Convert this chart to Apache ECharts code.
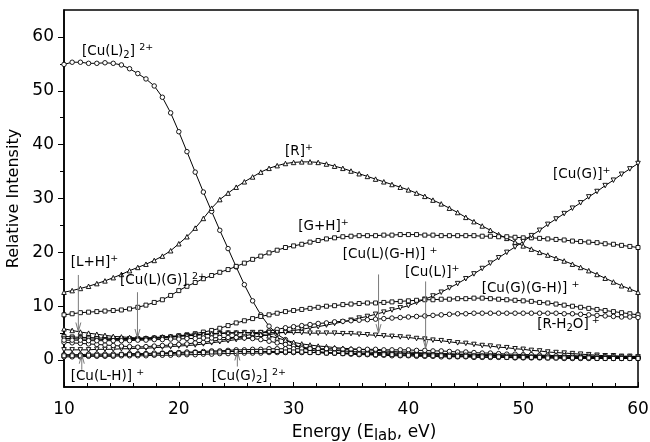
<!DOCTYPE html>
<html>
<head>
<meta charset="utf-8">
<script src="https://cdn.jsdelivr.net/npm/echarts@6/dist/echarts.min.js"></script>
<style>
  html, body { margin: 0; padding: 0; background: #fff; }
  #chart { width: 650px; height: 442px; }
</style>
</head>
<body>
<div id="chart"></div>
<script>
// Collision energy (lab frame, eV)
const energy = [
  10.00, 10.71, 11.43, 12.14, 12.86, 13.57, 14.29, 15.00, 15.71, 16.43,
  17.14, 17.86, 18.57, 19.29, 20.00, 20.71, 21.43, 22.14, 22.86, 23.57,
  24.29, 25.00, 25.71, 26.43, 27.14, 27.86, 28.57, 29.29, 30.00, 30.71,
  31.43, 32.14, 32.86, 33.57, 34.29, 35.00, 35.71, 36.43, 37.14, 37.86,
  38.57, 39.29, 40.00, 40.71, 41.43, 42.14, 42.86, 43.57, 44.29, 45.00,
  45.71, 46.43, 47.14, 47.86, 48.57, 49.29, 50.00, 50.71, 51.43, 52.14,
  52.86, 53.57, 54.29, 55.00, 55.71, 56.43, 57.14, 57.86, 58.57, 59.29, 60.00
];

// Relative intensities of each ion
const cuL2 = [
  54.9, 55.3, 55.3, 55.1, 55.1, 55.2, 55.1, 54.8, 54.1, 53.2,
  52.2, 50.9, 48.8, 45.9, 42.4, 38.7, 34.9, 31.2, 27.6, 24.1,
  20.7, 17.3, 14.0, 11.0, 8.4, 6.3, 4.8, 3.8, 2.9, 2.3,
  1.9, 1.6, 1.4, 1.3, 1.2, 1.1, 1.0, 1.0, 0.9, 0.9,
  0.8, 0.8, 0.8, 0.7, 0.7, 0.7, 0.6, 0.6, 0.6, 0.6,
  0.5, 0.5, 0.5, 0.5, 0.5, 0.4, 0.4, 0.4, 0.4, 0.4,
  0.4, 0.3, 0.3, 0.3, 0.3, 0.3, 0.3, 0.3, 0.3, 0.3, 0.3
];
const rIon = [
  12.6, 12.9, 13.3, 13.7, 14.2, 14.7, 15.3, 15.9, 16.6, 17.2,
  17.8, 18.5, 19.3, 20.3, 21.6, 22.9, 24.5, 26.3, 28.2, 29.8,
  31.0, 32.1, 33.1, 34.0, 34.9, 35.6, 36.1, 36.5, 36.7, 36.8,
  36.8, 36.7, 36.4, 36.0, 35.6, 35.1, 34.6, 34.1, 33.6, 33.1,
  32.6, 32.1, 31.6, 31.0, 30.4, 29.7, 29.0, 28.2, 27.4, 26.5,
  25.7, 24.9, 24.1, 23.3, 22.6, 21.9, 21.2, 20.6, 20.0, 19.5,
  18.9, 18.4, 17.8, 17.2, 16.6, 15.9, 15.2, 14.5, 13.8, 13.2, 12.6
];
const gH = [
  8.4, 8.6, 8.8, 8.9, 9.0, 9.1, 9.2, 9.3, 9.5, 9.8,
  10.2, 10.7, 11.2, 12.0, 12.9, 13.7, 14.4, 15.1, 15.7, 16.3,
  16.8, 17.4, 18.0, 18.7, 19.3, 19.9, 20.4, 20.9, 21.2, 21.5,
  21.9, 22.2, 22.5, 22.7, 22.9, 23.0, 23.1, 23.1, 23.1, 23.2,
  23.2, 23.3, 23.3, 23.3, 23.2, 23.2, 23.1, 23.1, 23.1, 23.1,
  23.1, 23.0, 23.0, 22.9, 22.9, 22.8, 22.7, 22.7, 22.6, 22.5,
  22.4, 22.3, 22.1, 22.0, 21.9, 21.8, 21.6, 21.5, 21.3, 21.1, 20.9
];
const cuG = [
  1.9, 1.9, 1.9, 1.9, 2.0, 2.0, 2.0, 2.1, 2.1, 2.2,
  2.2, 2.3, 2.4, 2.5, 2.6, 2.7, 2.8, 3.0, 3.2, 3.4,
  3.6, 3.8, 4.0, 4.2, 4.5, 4.7, 5.0, 5.2, 5.5, 5.7,
  6.0, 6.2, 6.5, 6.8, 7.1, 7.4, 7.8, 8.1, 8.5, 8.9,
  9.3, 9.7, 10.1, 10.7, 11.3, 11.9, 12.6, 13.4, 14.2, 15.1,
  16.0, 17.0, 18.0, 19.0, 20.0, 21.0, 22.0, 23.1, 24.1, 25.2,
  26.2, 27.2, 28.2, 29.2, 30.3, 31.3, 32.4, 33.4, 34.5, 35.5, 36.5
];
const cuGGH = [
  4.4, 4.3, 4.2, 4.2, 4.1, 4.1, 4.0, 4.0, 4.0, 4.0,
  4.0, 4.1, 4.2, 4.3, 4.5, 4.7, 4.9, 5.2, 5.5, 5.9,
  6.4, 6.9, 7.3, 7.7, 8.1, 8.4, 8.7, 9.0, 9.2, 9.4,
  9.6, 9.8, 10.0, 10.1, 10.3, 10.4, 10.5, 10.6, 10.6, 10.7,
  10.8, 10.9, 11.0, 11.1, 11.2, 11.2, 11.3, 11.3, 11.4, 11.4,
  11.5, 11.5, 11.4, 11.3, 11.2, 11.1, 11.0, 10.9, 10.7, 10.6,
  10.4, 10.2, 10.0, 9.8, 9.6, 9.4, 9.2, 9.0, 8.8, 8.6, 8.4
];
const rH2O = [
  3.3, 3.2, 3.1, 3.0, 2.9, 2.8, 2.7, 2.6, 2.5, 2.4,
  2.5, 2.6, 2.7, 2.8, 2.9, 3.0, 3.2, 3.3, 3.5, 3.7,
  3.9, 4.2, 4.5, 4.8, 5.1, 5.4, 5.7, 6.0, 6.2, 6.4,
  6.6, 6.8, 6.9, 7.1, 7.2, 7.3, 7.4, 7.5, 7.6, 7.7,
  7.8, 7.9, 8.0, 8.1, 8.2, 8.3, 8.4, 8.5, 8.6, 8.6,
  8.7, 8.7, 8.7, 8.7, 8.7, 8.7, 8.7, 8.7, 8.7, 8.7,
  8.7, 8.6, 8.6, 8.5, 8.4, 8.3, 8.2, 8.1, 8.0, 8.0, 7.9
];
const cuLGH = [
  4.0, 4.0, 3.9, 3.9, 3.9, 3.8, 3.8, 3.8, 3.8, 3.8,
  3.9, 4.0, 4.1, 4.2, 4.4, 4.5, 4.6, 4.7, 4.8, 4.9,
  5.0, 5.0, 5.1, 5.1, 5.1, 5.1, 5.1, 5.1, 5.1, 5.1,
  5.0, 5.0, 5.0, 5.0, 4.9, 4.9, 4.8, 4.7, 4.6, 4.5,
  4.4, 4.3, 4.2, 4.0, 3.9, 3.7, 3.6, 3.4, 3.2, 3.1,
  2.9, 2.7, 2.6, 2.4, 2.3, 2.1, 2.0, 1.8, 1.7, 1.5,
  1.4, 1.3, 1.2, 1.1, 1.0, 0.9, 0.8, 0.8, 0.7, 0.7, 0.6
];
const lH = [
  5.8, 5.5, 5.2, 5.0, 4.8, 4.6, 4.4, 4.3, 4.2, 4.1,
  4.1, 4.2, 4.3, 4.4, 4.5, 4.6, 4.7, 4.8, 4.9, 5.0,
  5.1, 5.1, 5.1, 5.0, 4.8, 4.5, 4.1, 3.7, 3.3, 3.0,
  2.8, 2.6, 2.5, 2.3, 2.2, 2.1, 2.0, 1.9, 1.8, 1.7,
  1.6, 1.5, 1.5, 1.4, 1.3, 1.3, 1.2, 1.2, 1.1, 1.1,
  1.1, 1.0, 1.0, 1.0, 0.9, 0.9, 0.9, 0.9, 0.8, 0.8,
  0.8, 0.8, 0.8, 0.7, 0.7, 0.7, 0.7, 0.7, 0.7, 0.7, 0.7
];
const cuLG = [
  3.7, 3.7, 3.7, 3.6, 3.6, 3.6, 3.6, 3.6, 3.6, 3.7,
  3.7, 3.8, 3.8, 3.9, 3.9, 4.0, 4.0, 4.1, 4.1, 4.2,
  4.2, 4.2, 4.1, 4.0, 3.8, 3.5, 3.2, 2.9, 2.6, 2.4,
  2.2, 2.0, 1.9, 1.8, 1.7, 1.6, 1.5, 1.5, 1.4, 1.4,
  1.3, 1.3, 1.2, 1.2, 1.2, 1.1, 1.1, 1.0, 1.0, 1.0,
  0.9, 0.9, 0.9, 0.8, 0.8, 0.8, 0.7, 0.7, 0.7, 0.7,
  0.6, 0.6, 0.6, 0.6, 0.5, 0.5, 0.5, 0.5, 0.5, 0.5, 0.5
];
const cuL = [
  1.0, 1.0, 1.0, 1.1, 1.1, 1.1, 1.1, 1.1, 1.2, 1.2,
  1.2, 1.3, 1.3, 1.4, 1.4, 1.5, 1.5, 1.6, 1.7, 1.7,
  1.8, 1.9, 1.9, 2.0, 2.0, 2.1, 2.1, 2.1, 2.1, 2.1,
  2.1, 2.1, 2.1, 2.1, 2.0, 2.0, 2.0, 2.0, 2.0, 1.9,
  1.9, 1.9, 1.9, 1.8, 1.8, 1.7, 1.7, 1.6, 1.5, 1.5,
  1.4, 1.3, 1.3, 1.2, 1.1, 1.1, 1.0, 1.0, 0.9, 0.9,
  0.8, 0.8, 0.8, 0.7, 0.7, 0.7, 0.6, 0.6, 0.6, 0.6, 0.6
];
const cuLmH = [
  0.6, 0.6, 0.6, 0.7, 0.7, 0.7, 0.7, 0.8, 0.8, 0.8,
  0.8, 0.9, 0.9, 0.9, 1.0, 1.0, 1.0, 1.1, 1.1, 1.2,
  1.2, 1.2, 1.3, 1.3, 1.3, 1.4, 1.4, 1.4, 1.4, 1.4,
  1.4, 1.4, 1.3, 1.3, 1.3, 1.3, 1.2, 1.2, 1.2, 1.2,
  1.1, 1.1, 1.1, 1.0, 1.0, 1.0, 0.9, 0.9, 0.9, 0.9,
  0.8, 0.8, 0.8, 0.7, 0.7, 0.7, 0.7, 0.6, 0.6, 0.6,
  0.5, 0.5, 0.5, 0.5, 0.5, 0.4, 0.4, 0.4, 0.4, 0.4, 0.4
];
const cuG2 = [
  0.8, 0.8, 0.8, 0.9, 0.9, 0.9, 0.9, 1.0, 1.0, 1.0,
  1.1, 1.1, 1.2, 1.2, 1.3, 1.3, 1.4, 1.4, 1.5, 1.5,
  1.6, 1.6, 1.6, 1.6, 1.6, 1.6, 1.6, 1.5, 1.5, 1.5,
  1.4, 1.4, 1.3, 1.3, 1.2, 1.2, 1.1, 1.1, 1.0, 1.0,
  1.0, 0.9, 0.9, 0.9, 0.8, 0.8, 0.8, 0.7, 0.7, 0.7,
  0.6, 0.6, 0.6, 0.6, 0.5, 0.5, 0.5, 0.5, 0.5, 0.4,
  0.4, 0.4, 0.4, 0.4, 0.4, 0.3, 0.3, 0.3, 0.3, 0.3, 0.3
];

// Axis tick values
const xTicks = [10, 20, 30, 40, 50, 60];
const yTicks = [0, 10, 20, 30, 40, 50, 60];
const yMinorTicks = [5, 15, 25, 35, 45, 55];

// Ion labels (rich text) and where they sit, in data coordinates (left edge, middle)
const ionLabels = [
  { text: '{n|[Cu(L)}{s|2}{n|] }{b|2+}', at: [11.57, 57.3] },
  { text: '{n|[R]}{b|+}', at: [29.25, 38.7] },
  { text: '{n|[Cu(G)]}{b|+}', at: [52.6, 34.5] },
  { text: '{n|[G+H]}{b|+}', at: [30.4, 24.8] },
  { text: '{n|[L+H]}{b|+}', at: [10.58, 18.15] },
  { text: '{n|[Cu(L)(G)] }{b|2+}', at: [14.88, 14.75] },
  { text: '{n|[Cu(L)(G-H)] }{b|+}', at: [34.28, 19.6] },
  { text: '{n|[Cu(L)]}{b|+}', at: [39.7, 16.3] },
  { text: '{n|[Cu(G)(G-H)] }{b|+}', at: [46.38, 13.2] },
  { text: '{n|[R-H}{s|2}{n|O]}{b| +}', at: [51.23, 6.56] },
  { text: '{n|[Cu(L-H)] }{b|+}', at: [10.58, -3.1] },
  { text: '{n|[Cu(G)}{s|2}{n|] }{b|2+}', at: [22.87, -3.05] }
];

// Pointer arrows from labels to curves: [x, yFrom, yTo]
const pointers = [
  [11.25, 15.8, 5.3],
  [16.4, 12.6, 4.1],
  [11.55, -1.8, 1.0],
  [25.1, -1.2, 1.6],
  [37.4, 15.9, 5.0],
  [41.5, 14.6, 2.2]
];

const FONT = 'DejaVu Sans';

function makeSeries(name, values, symbol, size, rotate) {
  return {
    name: name,
    type: 'line',
    data: energy.map((x, i) => [x, values[i]]),
    symbol: symbol,
    symbolSize: size,
    symbolRotate: rotate || 0,
    showSymbol: true,
    lineStyle: { color: '#000', width: 1 },
    itemStyle: { color: '#fff', borderColor: '#000', borderWidth: 0.9 },
    emphasis: { disabled: true },
    animation: false
  };
}

const chart = echarts.init(document.getElementById('chart'), null, { renderer: 'canvas' });

const option = {
  backgroundColor: '#fff',
  animation: false,
  grid: {
    left: 64, right: 12, top: 10, bottom: 55,
    show: true, borderColor: '#000', borderWidth: 1.5,
    outerBoundsMode: 'none'
  },
  xAxis: {
    type: 'value',
    min: 10, max: 60, interval: 10,
    name: '{a|Energy (E}{s|lab}{a|, eV)}',
    nameLocation: 'middle',
    nameGap: 37,
    nameTextStyle: {
      padding: [0, 0, 0, 26],
      rich: {
        a: { fontFamily: FONT, fontSize: 17, color: '#000', lineHeight: 20, verticalAlign: 'top' },
        s: { fontFamily: FONT, fontSize: 15, color: '#000', lineHeight: 14, verticalAlign: 'bottom' }
      }
    },
    axisLine: { onZero: false, lineStyle: { color: '#000', width: 1.5 } },
    axisTick: { inside: true, length: 5, lineStyle: { color: '#000', width: 1 } },
    minorTick: { show: true, splitNumber: 5, length: 4, lineStyle: { color: '#000', width: 1 } },
    axisLabel: {
      margin: 14, fontFamily: FONT, fontSize: 17, color: '#000',
      customValues: xTicks
    },
    splitLine: { show: false }
  },
  yAxis: [
    {
      type: 'value',
      min: -5, max: 65,
      name: 'Relative Intensity',
      nameLocation: 'middle',
      nameGap: 38,
      nameTextStyle: { fontFamily: FONT, fontSize: 16, color: '#000' },
      axisLine: { show: true, lineStyle: { color: '#000', width: 1.5 } },
      axisTick: { show: true, inside: false, length: 6, customValues: yTicks, lineStyle: { color: '#000', width: 1 } },
      axisLabel: { margin: 10, fontFamily: FONT, fontSize: 17, color: '#000', customValues: yTicks },
      splitLine: { show: false }
    },
    {
      type: 'value',
      position: 'left',
      min: -5, max: 65,
      axisLine: { show: false },
      axisTick: { show: true, inside: false, length: 4, customValues: yMinorTicks, lineStyle: { color: '#000', width: 1 } },
      axisLabel: { show: false },
      splitLine: { show: false }
    }
  ],
  series: [
    makeSeries('[Cu(L)2]2+', cuL2, 'circle', 4.5),
    makeSeries('[R]+', rIon, 'triangle', 4.5),
    makeSeries('[G+H]+', gH, 'rect', 4),
    makeSeries('[Cu(G)]+', cuG, 'triangle', 4.5, 180),
    makeSeries('[Cu(G)(G-H)]+', cuGGH, 'rect', 4),
    makeSeries('[R-H2O]+', rH2O, 'circle', 4.5),
    makeSeries('[Cu(L)(G-H)]+', cuLGH, 'triangle', 4.5, 180),
    makeSeries('[L+H]+', lH, 'triangle', 4.5),
    makeSeries('[Cu(L)(G)]2+', cuLG, 'circle', 4.5),
    makeSeries('[Cu(L)]+', cuL, 'circle', 4.5),
    makeSeries('[Cu(L-H)]+', cuLmH, 'circle', 4.5),
    makeSeries('[Cu(G)2]2+', cuG2, 'rect', 4)
  ]
};

chart.setOption(option);

// Labels and pointer arrows, placed through the grid's coordinate system
const rich = {
  n: { fontFamily: FONT, fontSize: 13.5, color: '#000', lineHeight: 18, verticalAlign: 'middle' },
  s: { fontFamily: FONT, fontSize: 10, color: '#000', lineHeight: 10, verticalAlign: 'bottom' },
  b: { fontFamily: FONT, fontSize: 9.5, color: '#000', lineHeight: 6, verticalAlign: 'top' }
};
const toPx = (p) => chart.convertToPixel({ gridIndex: 0 }, p);

const graphics = [];
ionLabels.forEach((lab) => {
  const p = toPx(lab.at);
  graphics.push({
    type: 'text', x: p[0], y: p[1], z: 100, silent: true,
    style: { text: lab.text, rich: rich, align: 'left', verticalAlign: 'middle' }
  });
});
pointers.forEach((ar) => {
  const a = toPx([ar[0], ar[1]]);
  const b = toPx([ar[0], ar[2]]);
  const dir = b[1] > a[1] ? 1 : -1;
  graphics.push({
    type: 'line', z: 90, silent: true,
    shape: { x1: a[0], y1: a[1], x2: b[0], y2: b[1] },
    style: { stroke: '#7a7a7a', lineWidth: 1 }
  });
  graphics.push({
    type: 'polyline', z: 90, silent: true,
    shape: { points: [[b[0] - 2.5, b[1] - dir * 9], [b[0], b[1]], [b[0] + 2.5, b[1] - dir * 9]] },
    style: { stroke: '#7a7a7a', lineWidth: 1, fill: null }
  });
});
chart.setOption({ graphic: graphics });
</script>
</body>
</html>
